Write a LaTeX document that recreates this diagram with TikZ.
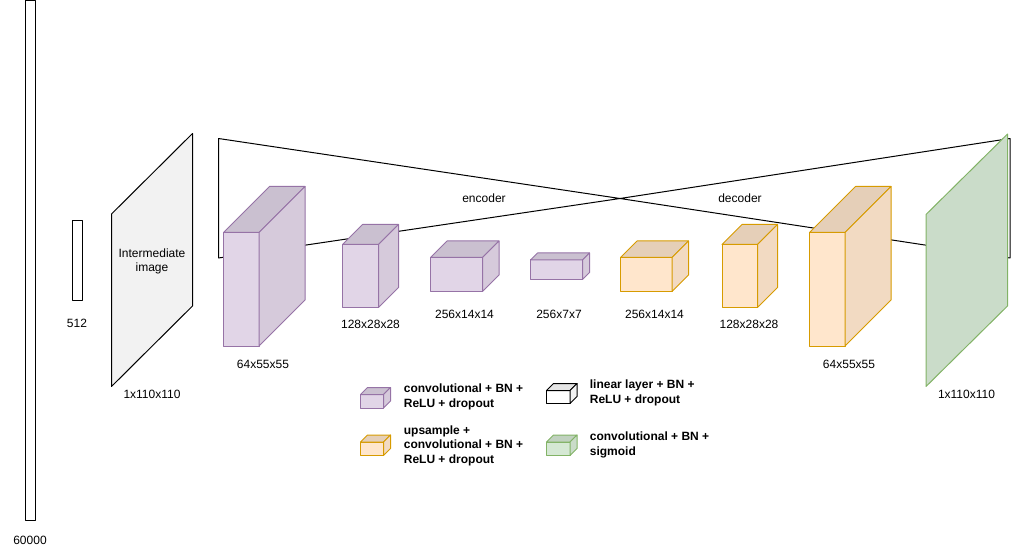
\documentclass[tikz,border=0pt]{standalone}
\usepackage{fontspec}
\setmainfont{Liberation Sans}
\usepackage{tikz}
\definecolor{convfill}{HTML}{E1D5E7}
\definecolor{convline}{HTML}{9673A6}
\definecolor{upfill}{HTML}{FFE6CC}
\definecolor{upline}{HTML}{D79B00}
\definecolor{sigfill}{HTML}{D5E8D4}
\definecolor{sigline}{HTML}{82B366}

\begin{document}
\begin{tikzpicture}[x=1pt,y=-1pt,line width=1pt,line join=round,
  conv/.style={fill=convfill,draw=convline},
  up/.style={fill=upfill,draw=upline},
  lin/.style={fill=white,draw=black},
  sig/.style={fill=sigfill,draw=sigline},
  lbl/.style={font=\fontsize{12}{14}\selectfont},
  key/.style={font=\fontsize{12}{14.5}\selectfont\bfseries,align=left,anchor=west}]
\useasboundingbox (0,0) rectangle (1018,556);
% input vectors
\draw[black] (25.5,0.5) rectangle (35.5,520.5);
\node[lbl] (n60000) at (30,540) {60000};
\draw[black] (72.5,220.5) rectangle (82.5,300.5);
\node[lbl] (n512) at (77,323) {512};
% encoder and decoder outlines
\draw[black] (218.5,138.5) -- (620,198.5) -- (218.5,258) -- cycle;
\draw[black] (1010,138.5) -- (620,198.5) -- (1010,258) -- cycle;
\node[lbl] (encoder) at (484,198) {encoder};
\node[lbl] (decoder) at (740,198) {decoder};
% intermediate image
\filldraw[fill=white!95!black, draw=black] (111.5,214) -- (192.5,133.5) -- (192.5,306) -- (111.5,386.5) -- cycle;
\node[lbl,align=center] (interm) at (152,261) {Intermediate\\image};
\node[lbl] (inshape) at (152,394.5) {1x110x110};
% encoder layers
\filldraw[conv] (223.5,232.5) rectangle (259,346);
\filldraw[conv,fill=convfill!90!black] (223.5,232.5) -- (269.5,186.5) -- (305,186.5) -- (259,232.5) -- cycle;
\filldraw[conv,fill=convfill!95!black] (259,232.5) -- (305,186.5) -- (305,300) -- (259,346) -- cycle;
\node[lbl] (enc1) at (263,364.5) {64x55x55};
\filldraw[conv] (342.5,244.5) rectangle (378.5,307.5);
\filldraw[conv,fill=convfill!90!black] (342.5,244.5) -- (362.5,224.5) -- (398.5,224.5) -- (378.5,244.5) -- cycle;
\filldraw[conv,fill=convfill!95!black] (378.5,244.5) -- (398.5,224.5) -- (398.5,287.5) -- (378.5,307.5) -- cycle;
\node[lbl] (enc2) at (370.5,324.5) {128x28x28};
\filldraw[conv] (430.5,257.5) rectangle (482.5,291.5);
\filldraw[conv,fill=convfill!90!black] (430.5,257.5) -- (447,241) -- (499,241) -- (482.5,257.5) -- cycle;
\filldraw[conv,fill=convfill!95!black] (482.5,257.5) -- (499,241) -- (499,275) -- (482.5,291.5) -- cycle;
\node[lbl] (enc3) at (464.5,314.5) {256x14x14};
\filldraw[conv] (530.5,260) rectangle (582.5,279.5);
\filldraw[conv,fill=convfill!90!black] (530.5,260) -- (537.5,253) -- (589.5,253) -- (582.5,260) -- cycle;
\filldraw[conv,fill=convfill!95!black] (582.5,260) -- (589.5,253) -- (589.5,272.5) -- (582.5,279.5) -- cycle;
\node[lbl] (enc4) at (559,314.5) {256x7x7};
% decoder layers
\filldraw[up] (620.5,257.5) rectangle (672,291.5);
\filldraw[up,fill=upfill!90!black] (620.5,257.5) -- (637,241) -- (688.5,241) -- (672,257.5) -- cycle;
\filldraw[up,fill=upfill!95!black] (672,257.5) -- (688.5,241) -- (688.5,275) -- (672,291.5) -- cycle;
\node[lbl] (dec1) at (654.5,314.5) {256x14x14};
\filldraw[up] (722,244.5) rectangle (757.5,307.5);
\filldraw[up,fill=upfill!90!black] (722,244.5) -- (742,224.5) -- (777.5,224.5) -- (757.5,244.5) -- cycle;
\filldraw[up,fill=upfill!95!black] (757.5,244.5) -- (777.5,224.5) -- (777.5,287.5) -- (757.5,307.5) -- cycle;
\node[lbl] (dec2) at (749,324.5) {128x28x28};
\filldraw[up] (809.5,232.5) rectangle (845,346);
\filldraw[up,fill=upfill!90!black] (809.5,232.5) -- (855.5,186.5) -- (891,186.5) -- (845,232.5) -- cycle;
\filldraw[up,fill=upfill!95!black] (845,232.5) -- (891,186.5) -- (891,300) -- (845,346) -- cycle;
\node[lbl] (dec3) at (849,364.5) {64x55x55};
% output image
\filldraw[sig,fill=sigfill!95!black] (926,214.5) -- (1007.5,134) -- (1007.5,306) -- (926,386.5) -- cycle;
\node[lbl] (outshape) at (966.5,394.5) {1x110x110};
% legend
\filldraw[conv] (360.5,394.5) rectangle (383.5,408);
\filldraw[conv,fill=convfill!90!black] (360.5,394.5) -- (367.5,387.5) -- (390.5,387.5) -- (383.5,394.5) -- cycle;
\filldraw[conv,fill=convfill!95!black] (383.5,394.5) -- (390.5,387.5) -- (390.5,401) -- (383.5,408) -- cycle;
\node[key] (keyconv) at (400,397) {convolutional + BN +\\ReLU + dropout};
\filldraw[up] (360.5,442) rectangle (383.5,455.5);
\filldraw[up,fill=upfill!90!black] (360.5,442) -- (367.5,435) -- (390.5,435) -- (383.5,442) -- cycle;
\filldraw[up,fill=upfill!95!black] (383.5,442) -- (390.5,435) -- (390.5,448.5) -- (383.5,455.5) -- cycle;
\node[key] (keyup) at (400,445.5) {upsample +\\convolutional + BN +\\ReLU + dropout};
\filldraw[lin] (546.5,390.5) rectangle (570,403.5);
\filldraw[lin,fill=white!90!black] (546.5,390.5) -- (553.5,383.5) -- (577,383.5) -- (570,390.5) -- cycle;
\filldraw[lin,fill=white!95!black] (570,390.5) -- (577,383.5) -- (577,396.5) -- (570,403.5) -- cycle;
\node[key] (keylin) at (586,393) {linear layer + BN +\\ReLU + dropout};
\filldraw[sig] (546.5,442) rectangle (570,455.5);
\filldraw[sig,fill=sigfill!90!black] (546.5,442) -- (553.5,435) -- (577,435) -- (570,442) -- cycle;
\filldraw[sig,fill=sigfill!95!black] (570,442) -- (577,435) -- (577,448.5) -- (570,455.5) -- cycle;
\node[key] (keysig) at (586,445) {convolutional + BN +\\sigmoid};
\end{tikzpicture}
\end{document}
